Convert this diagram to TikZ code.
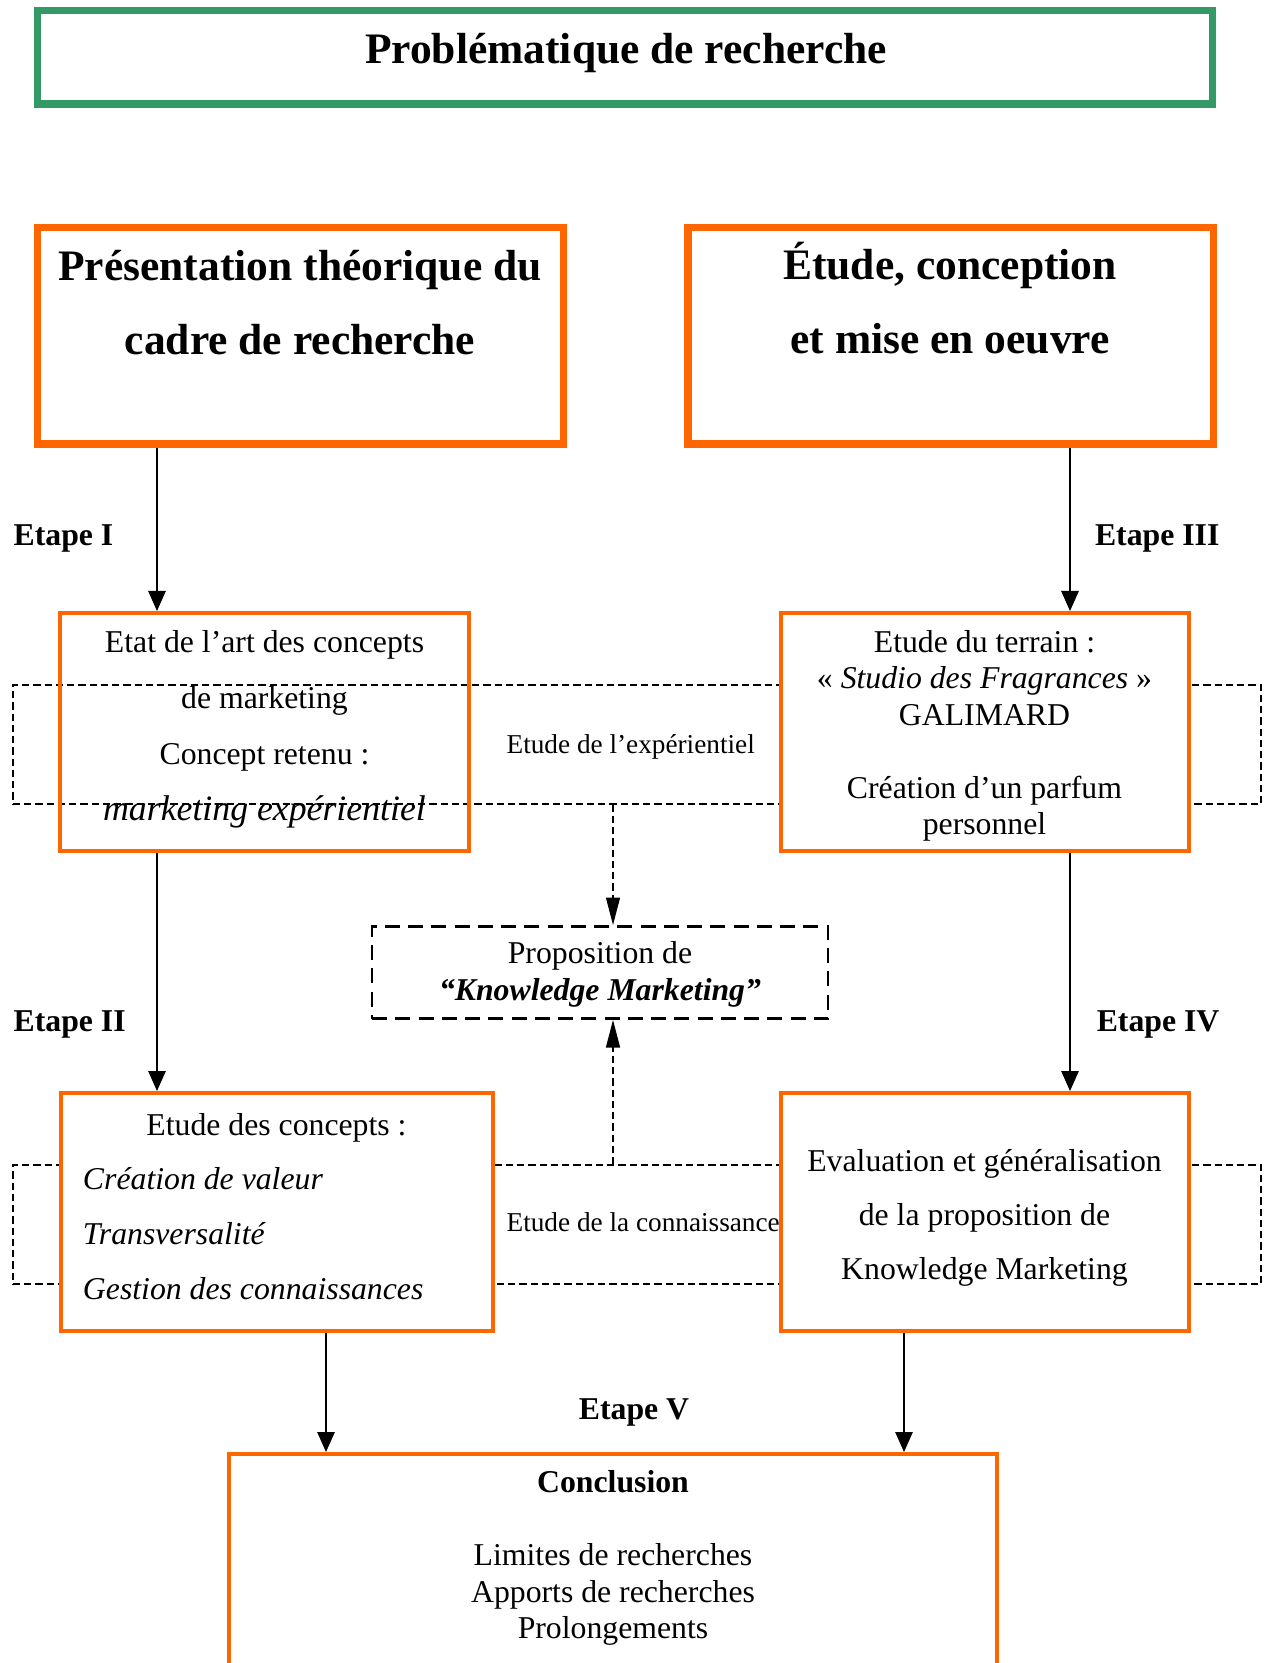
\documentclass[tikz,border=0pt]{standalone}
\usepackage{fontspec}
\setmainfont{Liberation Serif}
\usetikzlibrary{arrows.meta,positioning}
\definecolor{boxorange}{RGB}{255,102,0}
\definecolor{boxgreen}{RGB}{51,153,102}

\begin{document}
\begin{tikzpicture}[x=0.4pt,y=-0.4pt,->,>={Triangle[width=7pt,length=8pt]},line width=0.5pt,
    probbox/.style={draw=boxgreen,line width=3pt,minimum width=469.8pt,minimum height=37.4pt,inner sep=0pt},
    bigbox/.style={draw=boxorange,line width=3pt,minimum width=210.2pt,minimum height=86.6pt,inner sep=0pt},
    stepbox/.style={draw=boxorange,line width=1.6pt,minimum width=163.2pt,minimum height=95.2pt,inner sep=0pt},
    steptext/.style={align=center,inner sep=0pt,font=\fontsize{12.7}{22.4}\selectfont},
    loopbox/.style={draw,line width=0.5pt,dash pattern=on 2.9pt off 1.6pt,minimum width=499.2pt,minimum height=47.6pt,inner sep=0pt},
    propbox/.style={draw,line width=1.1pt,dash pattern=on 6pt off 3.3pt,minimum width=182.4pt,minimum height=36.9pt,inner sep=0pt},
    bigtext/.style={font=\bfseries\fontsize{17.4}{29.6}\selectfont,align=center,inner sep=0pt},
    etape/.style={font=\bfseries\fontsize{12.7}{15}\selectfont,inner sep=0pt},
    looplabel/.style={font=\fontsize{10.9}{13}\selectfont,inner sep=0pt,anchor=west},
    dasharrow/.style={dash pattern=on 2.9pt off 1.6pt,>={Triangle[width=5.6pt,length=11pt]}}]
  \useasboundingbox (0,0) rectangle (1265,1663);

  % columns of the arrows
  \coordinate (colI)   at (157,0);
  \coordinate (colIII) at (1070,0);
  \coordinate (colM)   at (613,0);
  \coordinate (colCl)  at (326,0);
  \coordinate (colCr)  at (904,0);

  % dashed loops behind the boxes
  \node[loopbox] (loopexp) at (637,744.5) {};
  \node[loopbox] (loopcon) at (637,1224.5) {};
  \node[looplabel] (labexp) at (506,747)  {Etude de l’expérientiel};
  \node[looplabel] (labcon) at (506,1222) {Etude de la connaissance};

  % title
  \node[probbox] (probleme) at (625,57.5) {};
  \node[bigtext] (problemetxt) at (626,53) {Problématique de recherche};

  % two parts
  \node[bigbox] (theorie) at (300.5,336) {};
  \node[bigtext] (theorietxt) at (300,303) {Présentation théorique du\\cadre de recherche};
  \node[bigbox] (etude) at (950.5,336) {};
  \node[bigtext] (etudetxt) at (950,298) {Étude, conception\\et mise en oeuvre};

  % steps
  \node[stepbox] (etat) at (264.5,732) {};
  \node[steptext] (etattxt) at (264.5,729)
    {Etat de l’art des concepts\\de marketing\\Concept retenu :\\\fontsize{14.3}{22.4}\selectfont\textit{marketing expérientiel}};
  \node[stepbox,fill=white] (terrain) at (984.5,732) {};
  \node[steptext,font=\fontsize{12.7}{14.6}\selectfont] (terraintxt) at (984.5,736)
    {Etude du terrain :\\« \textit{Studio des Fragrances} »\\GALIMARD\\[14.6pt]Création d’un parfum\\personnel};
  \node[stepbox,fill=white,minimum width=172.8pt] (concepts) at (277,1212) {};
  \node[steptext,align=left,font=\fontsize{12.7}{21.9}\selectfont] (conceptstxt) at (276.5,1206.5)
    {\makebox[154.8pt]{Etude des concepts :}\\\textit{Création de valeur}\\\textit{Transversalité}\\\textit{Gestion des connaissances}};
  \node[stepbox,fill=white] (evaluation) at (984.5,1212) {};
  \node[steptext,font=\fontsize{12.7}{21.6}\selectfont] (evaluationtxt) at (984.5,1218)
    {Evaluation et généralisation\\de la proposition de\\Knowledge Marketing};

  \node[propbox] (proposition) at (600,972.5) {};
  \node[steptext,font=\fontsize{12.7}{14.8}\selectfont] (propositiontxt) at (600,974.5)
    {Proposition de\\\textbf{\textit{“Knowledge Marketing”}}};

  \node[stepbox,minimum width=307.2pt,minimum height=100pt] (conclusion) at (613,1579) {};
  \node[steptext,font=\fontsize{12.7}{14.6}\selectfont] (conclusiontxt) at (613,1558)
    {\textbf{Conclusion}\\[14.6pt]Limites de recherches\\Apports de recherches\\Prolongements};

  \node[etape,anchor=west] (etI)   at (13,538)    {Etape I};
  \node[etape,anchor=east] (etIII) at (1220,538)  {Etape III};
  \node[etape,anchor=west] (etII)  at (13,1024)   {Etape II};
  \node[etape,anchor=east] (etIV)  at (1220,1024) {Etape IV};
  \node[etape] (etV) at (634,1412) {Etape V};

  \path (theorie.south -| colI) edge (etat.north -| colI);
  \path (etude.south -| colIII) edge (terrain.north -| colIII);
  \path (etat.south -| colI) edge (concepts.north -| colI);
  \path (terrain.south -| colIII) edge (evaluation.north -| colIII);
  \path (concepts.south -| colCl) edge (conclusion.north -| colCl);
  \path (evaluation.south -| colCr) edge (conclusion.north -| colCr);
  \path (loopexp.south -| colM) edge[dasharrow] (proposition.north -| colM);
  \path (loopcon.north -| colM) edge[dasharrow] (proposition.south -| colM);
\end{tikzpicture}
\end{document}
